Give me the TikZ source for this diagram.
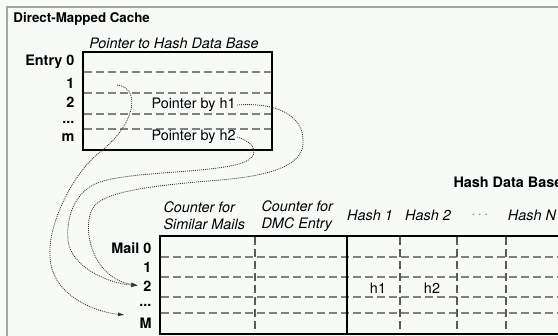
\documentclass[tikz,border=0pt]{standalone}
\usepackage{fontspec}
\setmainfont{TeX Gyre Heros}
\usetikzlibrary{arrows.meta}
\definecolor{bgmint}{RGB}{246,251,248}
\definecolor{framegray}{RGB}{165,165,165}
\definecolor{dashgray}{RGB}{128,128,128}
\tikzset{every picture/.style={line width=0.75pt}}

\begin{document}
\begin{tikzpicture}[x=0.75pt,y=0.75pt,yscale=-1,xscale=1,
  rowlab/.style={anchor=east,inner sep=0.75pt,font=\fontsize{10.8}{13}\selectfont\bfseries},
  headlab/.style={inner sep=0.75pt,font=\fontsize{10.8}{13}\selectfont\itshape},
  celltext/.style={inner sep=0.75pt,font=\fontsize{10.8}{13}\selectfont},
  tablebox/.style={line width=1.8pt},
  rowline/.style={dashgray,line width=1.1pt,dash pattern={on 6pt off 3pt}},
  colline/.style={dashgray!70!black,line width=0.9pt,dash pattern={on 6pt off 3pt}},
  ptr/.style={black!80,line width=0.6pt,dash pattern={on 0.75pt off 0.75pt},-{Latex[length=5pt,width=3pt]}}]
%uncomment if require: \path (0,336); %set diagram left start at 0, and has height of 336
\useasboundingbox (0,0) rectangle (558,336);
\clip (0,0) rectangle (558,336);
\fill[bgmint] (0,0) rectangle (558,336);
%Straight Lines [id:frame]
\draw[framegray,line width=1pt] (7,340) -- (7,7) -- (565,7);

%Shape: Rectangle [id:dmcbox]
\draw[tablebox] (83,52) rectangle (272,150);
\foreach \y in {72,93,114,129}
  \draw[rowline] (84,\y) -- (271,\y);

%Shape: Rectangle [id:hdbbox]
\foreach \y in {257,277,297,313}
  \draw[rowline] (161,\y) -- (565,\y);
\foreach \x in {255,400,457,506}
  \draw[colline] (\x,237) -- (\x,333);
\draw[tablebox] (565,236) -- (160,236) -- (160,334) -- (565,334);
\draw[tablebox] (347,236) -- (347,334);

% Text Node
\draw (12,19) node [anchor=west][inner sep=0.75pt][font=\fontsize{10}{12}\selectfont\bfseries] (title) {Direct-Mapped Cache};
% Text Node
\draw (174,43) node [headlab] (dmchead) {Pointer to Hash Data Base};
% Text Node
\draw (76,62) node [rowlab] (e0) {Entry 0};
\draw (76,83) node [rowlab] (e1lab) {1};
\draw (76,102) node [rowlab] (e2) {2};
\draw (76,122) node [rowlab] (edots) {...};
\draw (76,138) node [rowlab] (em) {m};
% Text Node
\draw (150,105) node [celltext,anchor=west] (pbh1) {Pointer by h1};
\draw (150,137) node [celltext,anchor=west] (pbh2) {Pointer by h2};
\coordinate (e1) at (117,85);

% Text Node
\draw (452,182) node [rowlab,anchor=west] (hdb) {Hash Data Base};
% Text Node
\draw (162,216) node [headlab,anchor=west,align=left] (cntsim) {Counter for\\Similar Mails};
\draw (260,216) node [headlab,anchor=west,align=left] (cntdmc) {Counter for\\DMC Entry};
\draw (370,215) node [headlab] (hash1) {Hash 1};
\draw (428,215) node [headlab] (hash2) {Hash 2};
\draw (480,215) node [celltext,text=dashgray] (hashdots) {$\cdots$};
\draw (532,215) node [headlab] (hashn) {Hash N};
% Text Node
\draw (153,248) node [rowlab] (m0) {Mail 0};
\draw (153,267) node [rowlab] (m1) {1};
\draw (153,286) node [rowlab] (m2) {2};
\draw (153,305) node [rowlab] (mdots) {...};
\draw (153,323) node [rowlab] (mM) {M};
% Text Node
\draw (378,288) node [celltext] (h1) {h1};
\draw (432,288) node [celltext] (h2) {h2};

%Curve Lines [id:ptrentry]
\draw[ptr,shorten >=10pt] (e1) .. controls (142,88) and (135,125) .. (100,152) .. controls (72,174) and (48,225) .. (50,255) .. controls (50,295) and (95,312) .. (mM.north west);
%Curve Lines [id:ptrh2]
\draw[ptr,shorten >=3pt] (pbh2.east) .. controls (255,142) and (265,158) .. (235,165) .. controls (200,173) and (130,172) .. (100,182) .. controls (76,190) and (66,215) .. (68,240) .. controls (70,265) and (105,283) .. (m2.west);
%Curve Lines [id:ptrh1]
\draw[ptr,shorten >=3pt] (pbh1.east) .. controls (275,102) and (303,115) .. (303,140) .. controls (305,162) and (280,175) .. (220,180) .. controls (160,185) and (110,190) .. (95,205) .. controls (80,222) and (90,278) .. (m2.west);

\end{tikzpicture}
\end{document}
